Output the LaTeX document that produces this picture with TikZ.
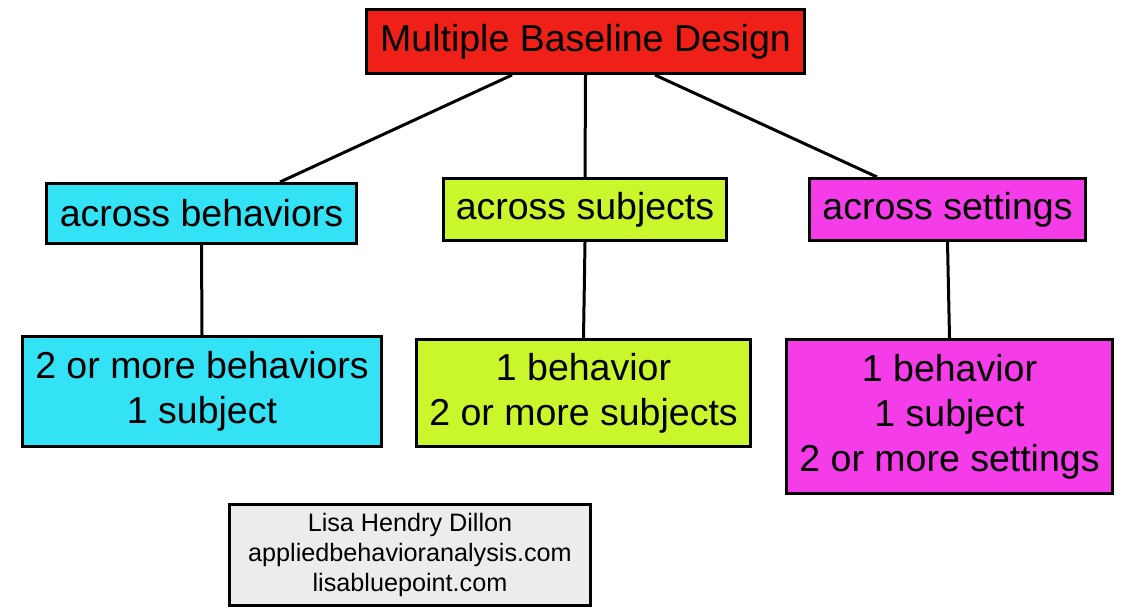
\documentclass[tikz,border=0pt]{standalone}
\usepackage{fontspec}
\setmainfont{Liberation Sans}
\usepackage{xcolor}
\definecolor{rojo}{RGB}{238,32,24}
\definecolor{celeste}{RGB}{52,226,245}
\definecolor{lima}{RGB}{202,246,44}
\definecolor{fucsia}{RGB}{244,60,232}
\definecolor{gris}{RGB}{236,236,236}

\begin{document}
\begin{tikzpicture}[x=1pt,y=-1pt,line width=3pt,
  caja/.style={draw,inner sep=0pt,align=center,
    font=\fontsize{37.5}{45}\selectfont},
  firma/.style={draw,fill=gris,inner sep=0pt,align=center,
    line width=2.5pt,font=\fontsize{25.2}{30}\selectfont}]
  \useasboundingbox (0,0) rectangle (1123,610);
  \node[caja,fill=rojo,minimum width=438,minimum height=64] (top) at (585.5,41.5) {Multiple Baseline Design};
  \node[caja,fill=celeste,minimum width=310,minimum height=60] (ab) at (201.5,213.5) {across behaviors};
  \node[caja,fill=lima,minimum width=283,minimum height=62] (as) at (585,209.5) {across subjects};
  \node[caja,fill=fucsia,minimum width=276,minimum height=62] (at) at (947.5,209.5) {across settings};
  \node[caja,fill=celeste,minimum width=359,minimum height=110] (b1) at (202,391.5) {2 or more behaviors\\1 subject};
  \node[caja,fill=lima,minimum width=334,minimum height=107] (b2) at (583.5,393) {1 behavior\\2 or more subjects};
  \node[caja,fill=fucsia,minimum width=326,minimum height=154] (b3) at (949.5,416.5) {1 behavior\\1 subject\\2 or more settings};
  \node[firma,minimum width=361,minimum height=101] (cr) at (410,555) {Lisa Hendry Dillon\\appliedbehavioranalysis.com\\lisabluepoint.com};
  \draw ([xshift=-73.5pt]top.south) -- ([xshift=78.5pt]ab.north);
  \draw (top.south) -- (as.north);
  \draw ([xshift=69.5pt]top.south) -- ([xshift=-70.5pt]at.north);
  \draw (ab.south) -- (b1.north);
  \draw (as.south) -- (b2.north);
  \draw (at.south) -- (b3.north);
\end{tikzpicture}
\end{document}
